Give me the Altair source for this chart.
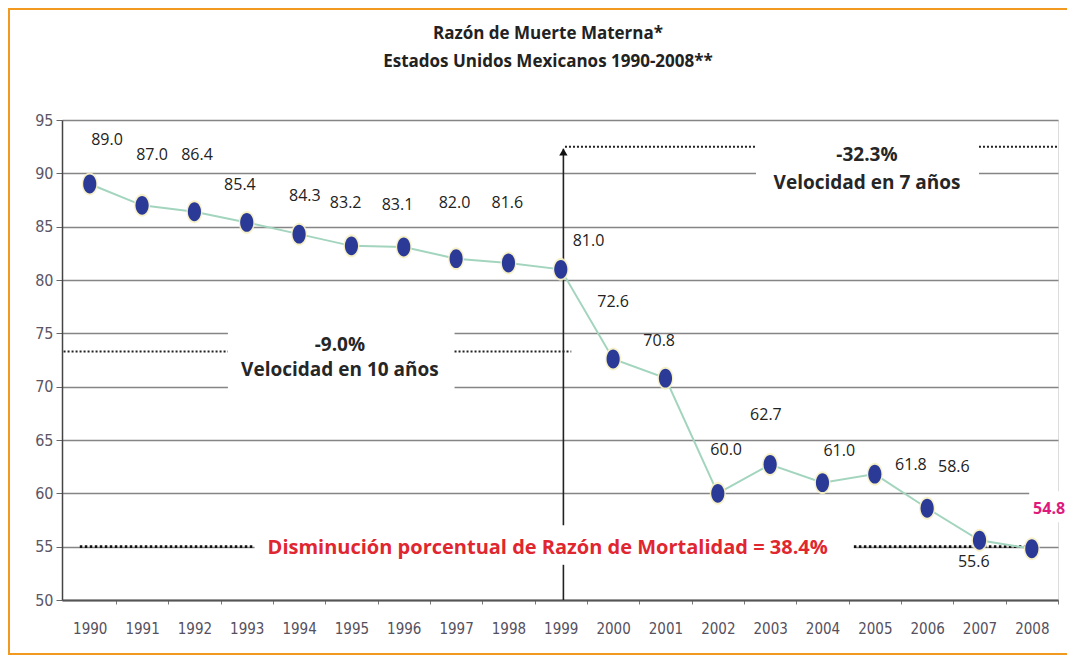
import altair as alt
import pandas as pd

# ---- data ----
years = list(range(1990, 2009))
rmm = [89.0, 87.0, 86.4, 85.4, 84.3, 83.2, 83.1, 82.0, 81.6, 81.0,
       72.6, 70.8, 60.0, 62.7, 61.0, 61.8, 58.6, 55.6, 54.8]
value_labels = ["89.0", "87.0", "86.4", "85.4", "84.3", "83.2", "83.1", "82.0", "81.6", "81.0",
                "72.6", "70.8", "60.0", "62.7", "61.0", "61.8", "58.6", "55.6"]
last_label = ["54.8"]

# label anchor positions (in data units)
label_x = [1990.33, 1991.19, 1992.05, 1992.87, 1994.11, 1994.89, 1995.88, 1996.97, 1997.98, 1999.53,
           2000.0, 2000.88, 2002.16, 2002.92, 2004.32, 2005.69, 2006.51, 2006.89]
label_y = [93.1, 91.7, 91.7, 88.9, 87.9, 87.2, 87.0, 87.2, 87.2, 83.65,
           77.9, 74.3, 64.1, 67.3, 64.0, 62.7, 62.5, 53.6]
last_x = [2008.33]
last_y = [58.5]

# annotation texts
ann_text = ["-9.0%", "Velocidad en 10 años", "-32.3%", "Velocidad en 7 años"]
ann_x = [1994.78, 1994.78, 2004.85, 2004.85]
ann_y = [73.9, 71.55, 91.7, 89.1]
red_text = ["Disminución porcentual de Razón de Mortalidad = 38.4%"]
red_x = [1998.75]
red_y = [54.9]

# dotted reference segments
dot_x1 = [1989.5, 1996.97, 1999.08, 2006.99]
dot_x2 = [1992.64, 1999.2, 2002.73, 2008.5]
dot_y = [73.3, 73.3, 92.5, 92.5]
dot55_x1 = [1989.81, 2004.6]
dot55_x2 = [1993.15, 2007.94]
dot55_y = [55.0, 55.0]

# white masks behind annotation boxes
mask_x1 = [1992.64, 2002.73, 1993.15, 2007.95]
mask_x2 = [1996.97, 2006.99, 2004.6, 2008.7]
mask_y1 = [68.5, 87.5, 53.3, 57.3]
mask_y2 = [76.5, 94.0, 57.0, 60.2]

# vertical arrow at 1999
arrow_x = [1999.05, 1999.05]
arrow_y1 = [50.0, 57.0]
arrow_y2 = [53.3, 92.3]
arrow_head_y = [92.0]

tick_years = years

# ---- scales / axes ----
XS = alt.Scale(domain=[1989.47, 2008.5], nice=False, zero=False)
YS = alt.Scale(domain=[50, 95], nice=False, zero=False)
FONT = "Open Sans"
AXFONT = "DejaVu Sans Condensed, Liberation Sans Narrow, DejaVu Sans"

xax = alt.Axis(values=tick_years, format="d", grid=False, tickOffset=26.2, labelOffset=-26.2,
               tickSize=4, tickColor="#777", domainColor="#555", domainWidth=2,
               labelFont=AXFONT, labelFontSize=15, labelColor="#55505e", labelPadding=17,
               title=None)
yax = alt.Axis(values=list(range(50, 96, 5)), grid=True, gridColor="#858585", gridWidth=1.7,
               tickSize=6, tickColor="#666", domainColor="#444", domainWidth=1.5,
               labelFont=AXFONT, labelFontSize=16, labelColor="#5b5566", labelPadding=3,
               title=None)


def X(f):
    return alt.X(f, type="quantitative", scale=XS, axis=xax)


def Y(f):
    return alt.Y(f, type="quantitative", scale=YS, axis=yax)


df = pd.DataFrame({"year": years, "rmm": rmm})
df_lab = pd.DataFrame({"x": label_x, "y": label_y, "t": value_labels})
df_last = pd.DataFrame({"x": last_x, "y": last_y, "t": last_label})
df_ann = pd.DataFrame({"x": ann_x, "y": ann_y, "t": ann_text})
df_red = pd.DataFrame({"x": red_x, "y": red_y, "t": red_text})
df_dot = pd.DataFrame({"x1": dot_x1, "x2": dot_x2, "y": dot_y})
df_dot55 = pd.DataFrame({"x1": dot55_x1, "x2": dot55_x2, "y": dot55_y})
df_mask = pd.DataFrame({"x1": mask_x1, "x2": mask_x2, "y1": mask_y1, "y2": mask_y2})
df_arrow = pd.DataFrame({"x": arrow_x, "y1": arrow_y1, "y2": arrow_y2})
df_head = pd.DataFrame({"x": [arrow_x[0]], "y": arrow_head_y})
df_one = pd.DataFrame({"k": [0]})

ELLIPSE = "M-0.8,0 A0.8,1.15 0 1,1 0.8,0 A0.8,1.15 0 1,1 -0.8,0 Z"

masks = alt.Chart(df_mask).mark_rect(color="white").encode(
    x=X("x1"), x2="x2", y=Y("y1"), y2="y2")

dots = alt.Chart(df_dot).mark_rule(color="#222", strokeWidth=2, strokeDash=[2, 2]).encode(
    x=X("x1"), x2="x2", y=Y("y"))
dots55 = alt.Chart(df_dot55).mark_rule(color="#111", strokeWidth=2.6, strokeDash=[2.5, 2.5]).encode(
    x=X("x1"), x2="x2", y=Y("y"))

arrow = alt.Chart(df_arrow).mark_rule(color="#222", strokeWidth=1.6).encode(
    x=X("x"), y=Y("y1"), y2="y2")
head = alt.Chart(df_head).mark_point(shape="triangle-up", filled=True, color="#111",
                                     size=70, opacity=1).encode(x=X("x"), y=Y("y"))

line = alt.Chart(df).mark_line(color="#a3d5be", strokeWidth=2).encode(x=X("year"), y=Y("rmm"))
halo = alt.Chart(df).mark_point(shape=ELLIPSE, filled=True, color="#f6efc4",
                                size=400, opacity=0.9).encode(x=X("year"), y=Y("rmm"))
pts = alt.Chart(df).mark_point(shape=ELLIPSE, filled=True, color="#2b3a96",
                               size=270, opacity=1).encode(x=X("year"), y=Y("rmm"))

labels = alt.Chart(df_lab).mark_text(font=FONT, fontSize=16, color="#222").encode(
    x=X("x"), y=Y("y"), text="t")
last = alt.Chart(df_last).mark_text(font=FONT, fontSize=16, fontWeight="bold", color="#e0197c").encode(
    x=X("x"), y=Y("y"), text="t")

ann = alt.Chart(df_ann).mark_text(font=FONT, fontSize=19, fontWeight="bold", color="#262626").encode(
    x=X("x"), y=Y("y"), text="t")
red = alt.Chart(df_red).mark_text(font=FONT, fontSize=20, fontWeight="bold", color="#e0262f").encode(
    x=X("x"), y=Y("y"), text="t")

ORANGE = "#f29a1f"
frame_left = alt.Chart(df_one).mark_rule(color=ORANGE, strokeWidth=2).encode(
    x=alt.value(-53), y=alt.value(-111), y2=alt.value(534))
frame_top = alt.Chart(df_one).mark_rule(color=ORANGE, strokeWidth=2).encode(
    x=alt.value(-54), x2=alt.value(1005), y=alt.value(-111))
frame_bottom = alt.Chart(df_one).mark_rule(color=ORANGE, strokeWidth=2).encode(
    x=alt.value(-54), x2=alt.value(1005), y=alt.value(534))

chart = alt.layer(
    masks, dots, dots55, arrow, head, line, halo, pts, labels, last, ann, red,
    frame_left, frame_top, frame_bottom
).properties(
    width=996, height=480,
    title=alt.TitleParams(
        text=["Razón de Muerte Materna*", "Estados Unidos Mexicanos 1990-2008**"],
        font=FONT, fontSize=17, fontWeight="bold", color="#222", anchor="middle",
        lineHeight=28, offset=-80, baseline="bottom", dx=-12),
    autosize=alt.AutoSizeParams(type="none"),
    padding={"left": 54, "top": 112, "right": 9, "bottom": 56},
).configure_view(stroke="#c8c8c8", strokeWidth=1.5).configure(background="white")

chart.save("out.html", embed_options={"renderer": "svg", "actions": False})
